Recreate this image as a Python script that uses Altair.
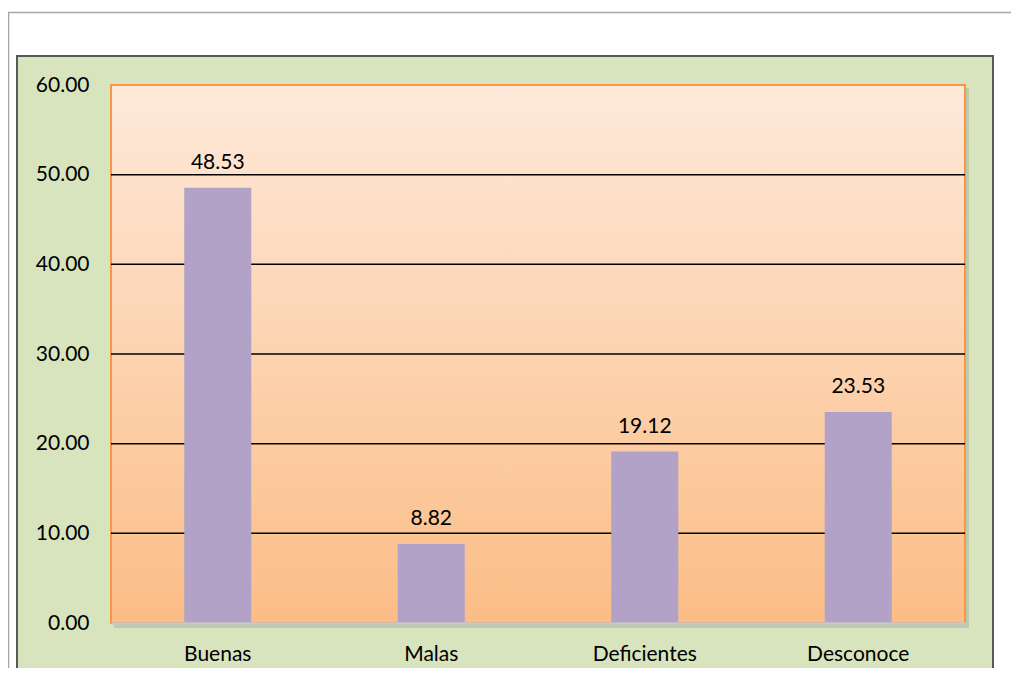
import altair as alt
import pandas as pd

categories = ["Buenas", "Malas", "Deficientes", "Desconoce"]
values = [48.53, 8.82, 19.12, 23.53]
labels = ["48.53", "8.82", "19.12", "23.53"]
y_ticks = [0, 10, 20, 30, 40, 50, 60]
grid_values = [10, 20, 30, 40, 50]

W, H = 854, 538
FONT = "Lato"

df = pd.DataFrame({"cat": categories, "value": values, "label": labels})
grid_df = pd.DataFrame({"value": grid_values})
one = pd.DataFrame({"k": [0]})

yscale = alt.Scale(domain=[0, 60], nice=False)
xscale = alt.Scale(paddingInner=0.686, paddingOuter=0.343)

frame_top = alt.Chart(one).mark_rule(color="#A6A6A6", strokeWidth=1.5).encode(
    x=alt.value(-103), x2=alt.value(908), y=alt.value(-72.5))
frame_left = alt.Chart(one).mark_rule(color="#A6A6A6", strokeWidth=1.5).encode(
    x=alt.value(-102.5), y=alt.value(-72.5), y2=alt.value(620))
panel = alt.Chart(one).mark_rect(fill="#D7E4BD", stroke="#595959", strokeWidth=2).encode(
    x=alt.value(-94), x2=alt.value(882), y=alt.value(-29), y2=alt.value(620))
shadow = alt.Chart(one).mark_rect(fill="#6F6F6F", opacity=0.22).encode(
    x=alt.value(3), x2=alt.value(W + 4), y=alt.value(3), y2=alt.value(H + 5))
plotbg = alt.Chart(one).mark_rect(
    fill=alt.LinearGradient(
        gradient="linear",
        stops=[alt.GradientStop(offset=0, color="#FEE9DA"),
               alt.GradientStop(offset=1, color="#FBBD86")],
        x1=0, x2=0, y1=0, y2=1),
    stroke="#F79646", strokeWidth=2).encode(
    x=alt.value(0), x2=alt.value(W), y=alt.value(0), y2=alt.value(H))

xenc = alt.X("cat:N", sort=categories, scale=xscale,
             axis=alt.Axis(title=None, labelFont=FONT, labelFontSize=21, labelColor="black",
                           labelPadding=20, ticks=False, domainColor="#C8C8C8", domainWidth=2.5,
                           labelAngle=0, zindex=1))
yaxis = alt.Axis(title=None, values=y_ticks, format=".2f", labelFont=FONT,
                 labelFontSize=21, labelColor="black", labelPadding=22, ticks=False,
                 domain=False, grid=False, zindex=1)
yenc = alt.Y("value:Q", scale=yscale, axis=yaxis)

grid = alt.Chart(grid_df).mark_rule(color="black", strokeWidth=1.5).encode(
    y=yenc, x=alt.value(0), x2=alt.value(W))

bars = alt.Chart(df).mark_bar(color="#B3A2C7").encode(x=xenc, y=yenc)
text = alt.Chart(df).mark_text(font=FONT, fontSize=21, color="black", dy=-19,
                               baseline="alphabetic").encode(x=xenc, y=yenc, text="label:N")

chart = alt.layer(frame_top, frame_left, panel, shadow, plotbg, grid, bars, text).properties(
    width=W, height=H,
    padding={"left": 103, "top": 77, "right": 46, "bottom": 45},
    autosize="none",
    background="white",
).configure_view(stroke=None)

chart.save("out.html", embed_options={"renderer": "svg", "actions": False})
